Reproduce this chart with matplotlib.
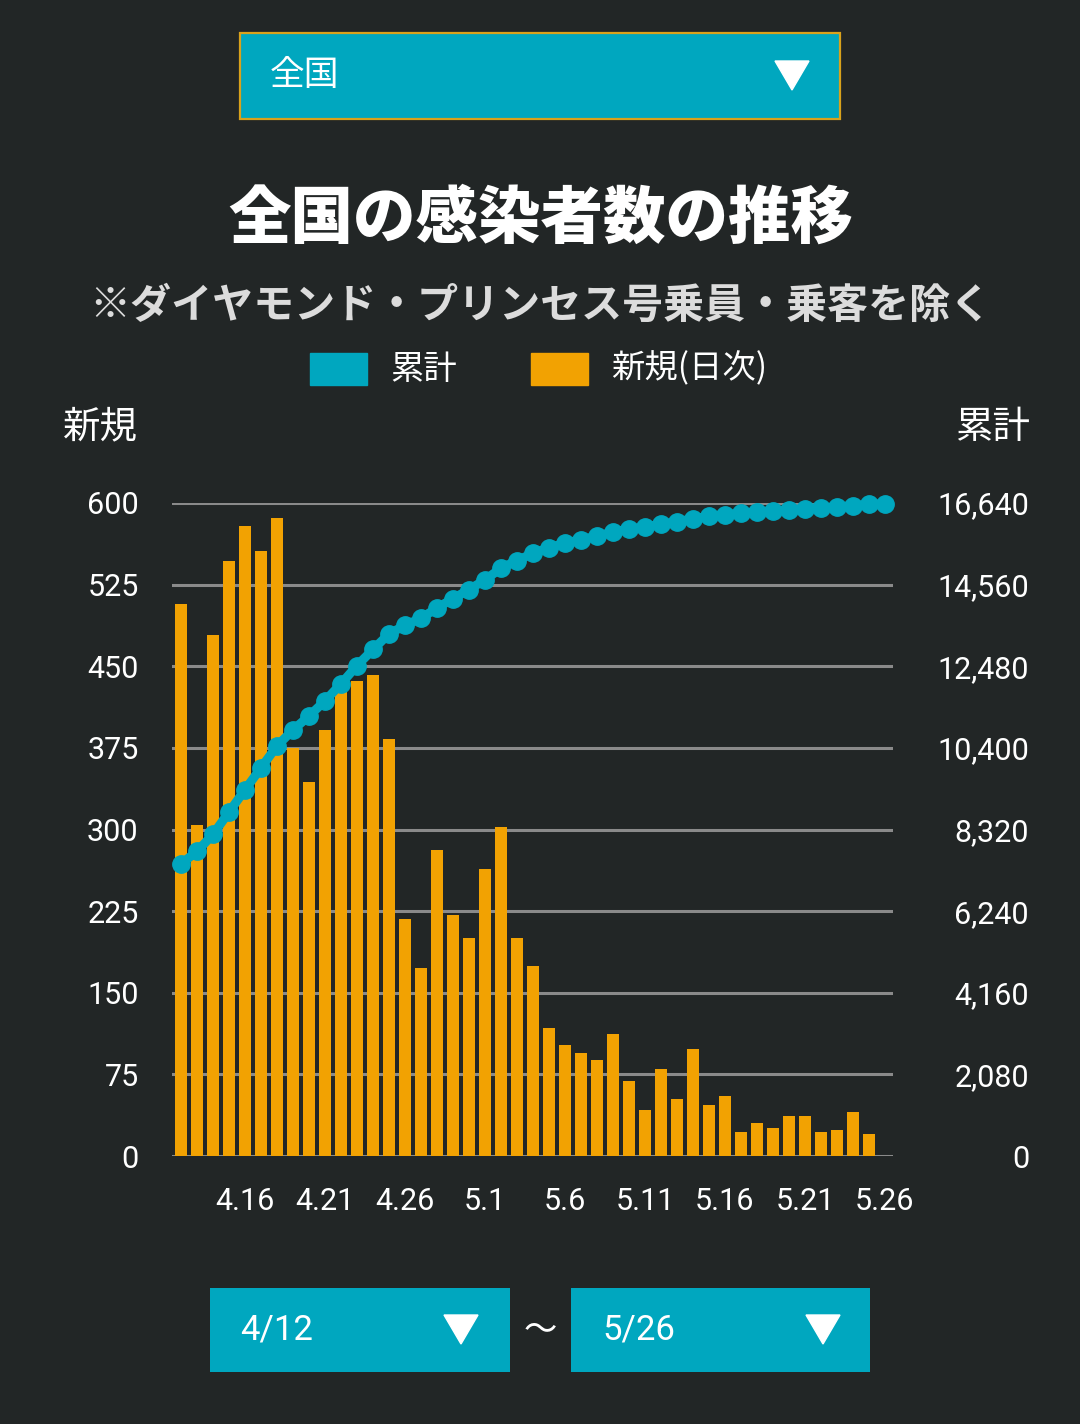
import matplotlib
matplotlib.use("Agg")
import matplotlib.pyplot as plt
from matplotlib.patches import Rectangle, Polygon

# data (4/12 - 5/26)
dates = ['4.12', '4.13', '4.14', '4.15', '4.16', '4.17', '4.18', '4.19', '4.20',
         '4.21', '4.22', '4.23', '4.24', '4.25', '4.26', '4.27', '4.28', '4.29',
         '4.30', '5.1', '5.2', '5.3', '5.4', '5.5', '5.6', '5.7', '5.8', '5.9',
         '5.10', '5.11', '5.12', '5.13', '5.14', '5.15', '5.16', '5.17', '5.18',
         '5.19', '5.20', '5.21', '5.22', '5.23', '5.24', '5.25', '5.26']
shown_dates = ['4.16', '4.21', '4.26', '5.1', '5.6', '5.11', '5.16', '5.21', '5.26']
new_cases = [507, 304, 479, 547, 579, 556, 586, 375, 344, 391, 428, 436, 442, 383,
             218, 173, 281, 221, 200, 264, 302, 200, 175, 118, 102, 95, 88, 112,
             69, 42, 80, 52, 98, 47, 55, 22, 30, 26, 37, 37, 22, 24, 40, 20]
total = [7444, 7762, 8195, 8764, 9333, 9891, 10449, 10858, 11211, 11598, 12031,
         12497, 12907, 13305, 13522, 13704, 13965, 14204, 14432, 14682, 14978,
         15172, 15360, 15502, 15616, 15707, 15798, 15901, 15980, 16026, 16106,
         16162, 16242, 16299, 16345, 16379, 16413, 16436, 16458, 16492, 16515,
         16538, 16572, 16606, 16618]
left_ticks = [0, 75, 150, 225, 300, 375, 450, 525, 600]
right_ticks = [0, 2080, 4160, 6240, 8320, 10400, 12480, 14560, 16640]

bg = '#222626'
teal = '#00a7bf'
orange = '#f2a202'
grid = '#8a8a8a'
jp = ['Noto Sans CJK JP', 'DejaVu Sans']
num = ['Roboto', 'DejaVu Sans']

W, H = 1080, 1424
fig = plt.figure(figsize=(W / 100, H / 100), dpi=100, facecolor=bg)

def fx(x):
    return x / W

def fy(y):
    return 1 - y / H

# chart area
ax = fig.add_axes([fx(172), fy(1156), fx(893) - fx(172), fy(503) - fy(1156)])
ax.set_facecolor('none')
xs = list(range(len(new_cases)))
ax.bar(xs, new_cases, width=0.75, color=orange, zorder=3)
ax.set_xlim(-0.5625, 44.5)
ax.set_ylim(0, 600)
ax.set_yticks(left_ticks)
ax.set_yticklabels([str(t) for t in left_ticks])
ax.yaxis.grid(True, color=grid, lw=2.2)
ax.set_axisbelow(True)
pos = [dates.index(d) for d in shown_dates]
ax.set_xticks(pos)
ax.set_xticklabels(shown_dates)
for s in ax.spines.values():
    s.set_visible(False)
ax.tick_params(axis='y', length=0, pad=24, labelcolor='white', labelsize=22)
ax.tick_params(axis='x', length=0, pad=22, labelcolor='white', labelsize=22)
for lbl in ax.get_xticklabels() + ax.get_yticklabels():
    lbl.set_family(num)

ax2 = ax.twinx()
ax2.set_facecolor('none')
ax2.plot(range(len(total)), total, color=teal, lw=6.5, marker='o', ms=12.5,
         mec=teal, mfc=teal, clip_on=False, zorder=5)
ax2.set_ylim(0, 16640)
ax2.set_yticks(right_ticks)
ax2.set_yticklabels([f'{t:,}' for t in right_ticks])
for s in ax2.spines.values():
    s.set_visible(False)
ax2.tick_params(axis='y', length=0, pad=98, labelcolor='white', labelsize=22)
for lbl in ax2.get_yticklabels():
    lbl.set_family(num)
    lbl.set_horizontalalignment('right')

# axis headers
fig.text(fx(138), fy(427), '新規', ha='right', va='center', color='white',
         fontsize=27, family=jp)
fig.text(fx(1030), fy(427), '累計', ha='right', va='center', color='white',
         fontsize=27, family=jp)

# title and note
fig.text(fx(541), fy(219), '全国の感染者数の推移', ha='center', va='center',
         color='white', fontsize=45, fontweight='black', family=jp)
fig.text(fx(540), fy(306), '※ダイヤモンド・プリンセス号乗員・乗客を除く', ha='center',
         va='center', color='#dcdcdc', fontsize=29.5, fontweight='bold', family=jp)

# legend
fig.patches.append(Rectangle((fx(310), fy(385)), fx(57), 32 / H, color=teal,
                             transform=fig.transFigure))
fig.text(fx(390), fy(369), '累計', ha='left', va='center', color='white',
         fontsize=24, family=jp)
fig.patches.append(Rectangle((fx(531), fy(385)), fx(57), 32 / H, color=orange,
                             transform=fig.transFigure))
fig.text(fx(611), fy(369), '新規(日次)', ha='left', va='center', color='white',
         fontsize=24, family=jp)

def dropdown(x0, y0, x1, y1, tri_x, border=None):
    fig.patches.append(Rectangle((fx(x0), fy(y1)), fx(x1 - x0), (y1 - y0) / H,
                                 facecolor=teal, edgecolor=border or teal,
                                 lw=1.6 if border else 0, transform=fig.transFigure))
    cy = (y0 + y1) / 2
    fig.patches.append(Polygon([(fx(tri_x), fy(cy - 15)), (fx(tri_x + 34), fy(cy - 15)),
                                (fx(tri_x + 17), fy(cy + 14))], closed=True,
                               color='white', transform=fig.transFigure))
    return cy

cy = dropdown(240, 33, 840, 119, 775, border='#d9a21c')
fig.text(fx(270), fy(cy), '全国', ha='left', va='center', color='white',
         fontsize=25, family=jp)

cy = dropdown(210, 1288, 510, 1372, 444)
fig.text(fx(240), fy(cy), '4/12', ha='left', va='center', color='white',
         fontsize=25, family=num)
cy = dropdown(571, 1288, 870, 1372, 806)
fig.text(fx(602), fy(cy), '5/26', ha='left', va='center', color='white',
         fontsize=25, family=num)
fig.text(fx(540), fy(1330), '〜', ha='center', va='center', color='white',
         fontsize=24, family=jp)

fig.savefig('out.png', dpi=100, facecolor=bg)
